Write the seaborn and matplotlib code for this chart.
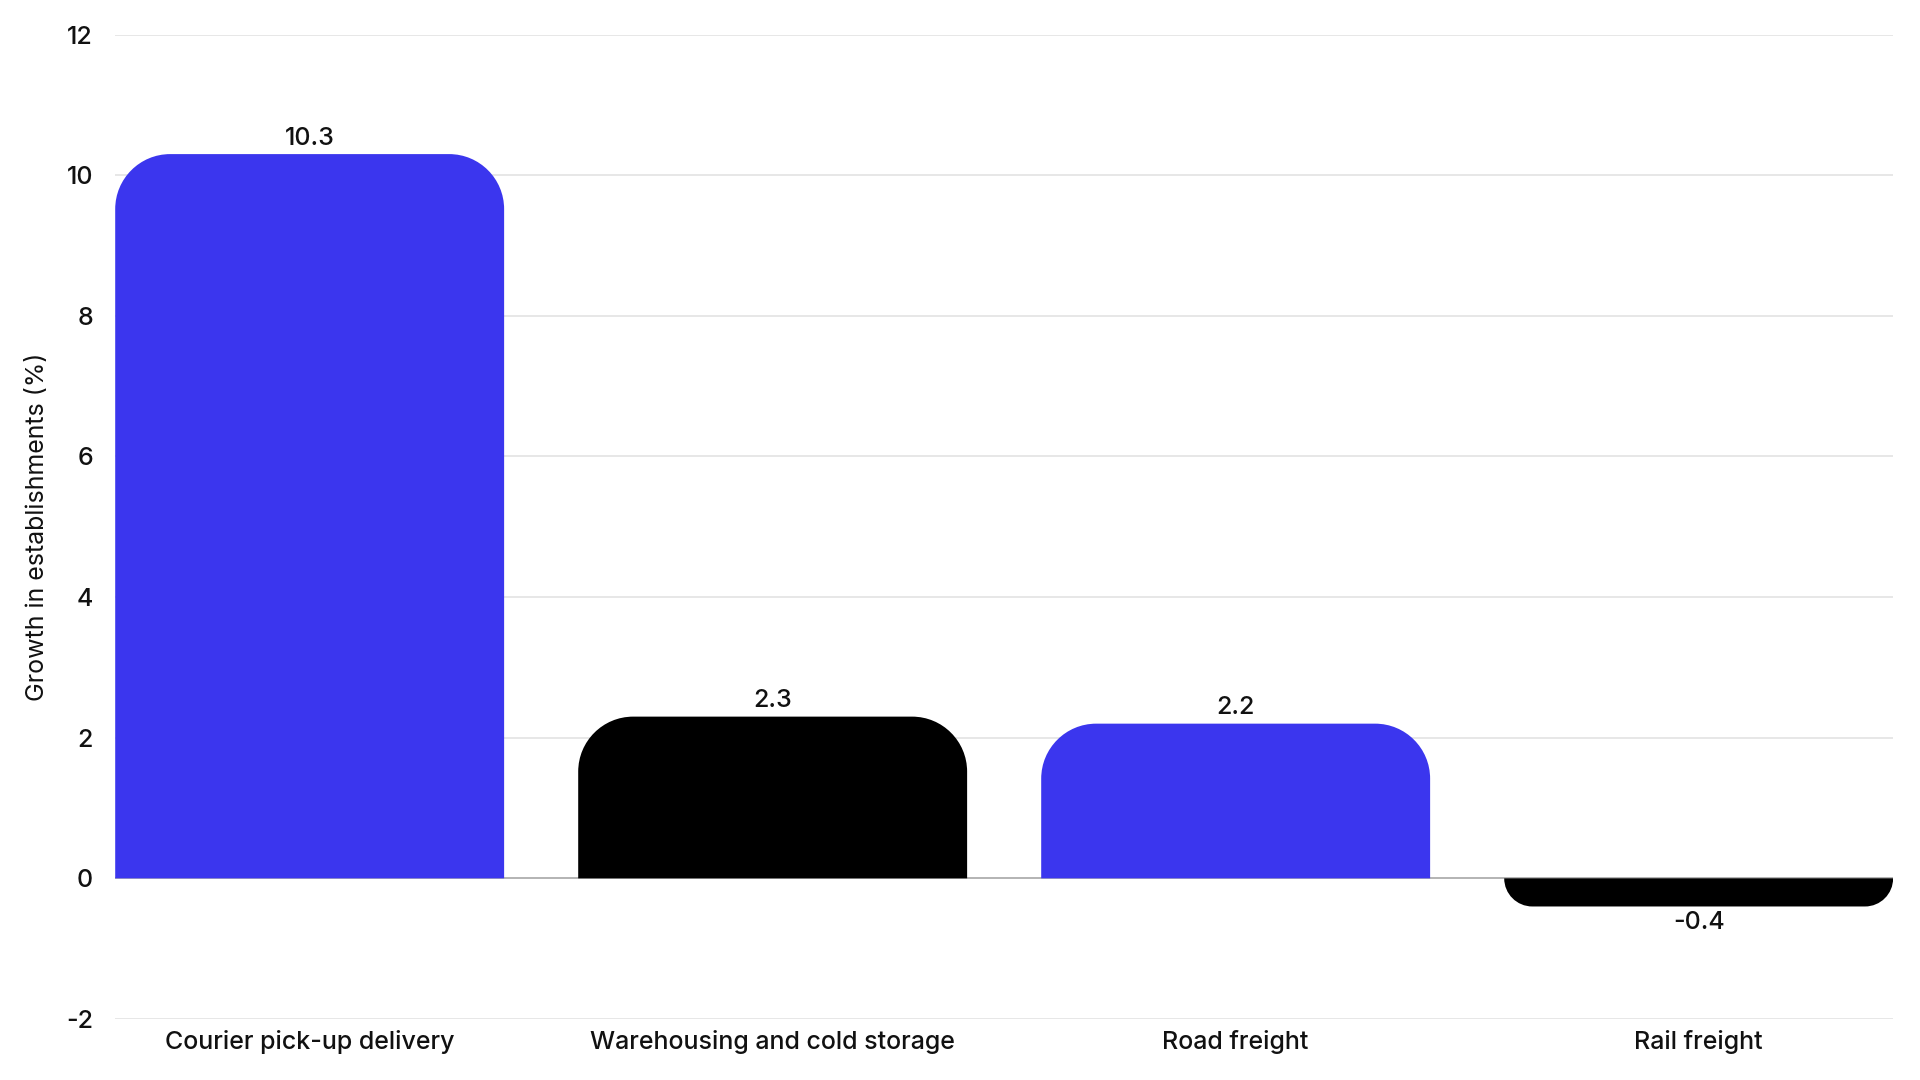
import numpy as np
import pandas as pd
import seaborn as sns
import matplotlib.pyplot as plt
from matplotlib.path import Path
from matplotlib.patches import PathPatch

# Data
categories = ["Courier pick-up delivery", "Warehousing and cold storage", "Road freight", "Rail freight"]
growth = [10.3, 2.3, 2.2, -0.4]
bar_colors = ["#3B36EE", "#000000", "#3B36EE", "#000000"]

df = pd.DataFrame({"cat": categories, "growth": growth})

sns.set_theme(style="white")
plt.rcParams['font.family'] = ['Inter', 'DejaVu Sans']
plt.rcParams['font.weight'] = 'medium'
plt.rcParams['axes.unicode_minus'] = False

fig = plt.figure(figsize=(19.2, 10.8), dpi=100)
ax = fig.add_axes([0.06, 0.0565, 0.926, 0.9115])

sns.barplot(data=df, x="cat", y="growth", hue="cat", palette=bar_colors,
            width=0.84, saturation=1, legend=False, ax=ax)

ax.set_xlim(-0.42, 3.42)
ax.set_ylim(-2, 12)
ax.set_yticks(range(-2, 13, 2))
ax.grid(axis="y", color="#e3e3e3", linewidth=1.2)
ax.set_axisbelow(True)
ax.axhline(0, color="#b0b0b0", linewidth=1.3, zorder=1)
for s in ax.spines.values():
    s.set_visible(False)

ax.set_xlabel("")
ax.set_ylabel("Growth in establishments (%)", fontsize=18, color="#111111", labelpad=12)
ax.tick_params(axis="y", labelsize=18, pad=16, length=0, labelcolor="#111111")
ax.tick_params(axis="x", labelsize=18, pad=8, length=0, labelcolor="#111111")

for cont in ax.containers:
    ax.bar_label(cont, fmt="{:.1f}", padding=3, fontsize=18, color="#111111")

# replace plain rectangles with rounded-top bars
fig.canvas.draw()
bbox = ax.get_window_extent()
px_x = bbox.width / (ax.get_xlim()[1] - ax.get_xlim()[0])
px_y = bbox.height / (ax.get_ylim()[1] - ax.get_ylim()[0])
radius_px = 55
k = 0.5523

for p in list(ax.patches):
    x0 = p.get_x()
    w = p.get_width()
    h = p.get_height()
    if w == 0 or np.isnan(h):
        continue
    color = p.get_facecolor()
    p.set_visible(False)
    r_px = min(radius_px, abs(h) * px_y, w * px_x / 2)
    rx = r_px / px_x
    ry = r_px / px_y
    x1 = x0 + w
    sgn = 1 if h >= 0 else -1
    top = h
    yr = top - sgn * ry
    verts = [
        (x0, 0), (x0, yr),
        (x0, yr + sgn * ry * k), (x0 + rx * (1 - k), top), (x0 + rx, top),
        (x1 - rx, top),
        (x1 - rx * (1 - k), top), (x1, yr + sgn * ry * k), (x1, yr),
        (x1, 0), (x0, 0),
    ]
    codes = [Path.MOVETO, Path.LINETO,
             Path.CURVE4, Path.CURVE4, Path.CURVE4,
             Path.LINETO,
             Path.CURVE4, Path.CURVE4, Path.CURVE4,
             Path.LINETO, Path.CLOSEPOLY]
    ax.add_patch(PathPatch(Path(verts, codes), facecolor=color, edgecolor="none", zorder=2))

fig.savefig("out.png", dpi=100)
